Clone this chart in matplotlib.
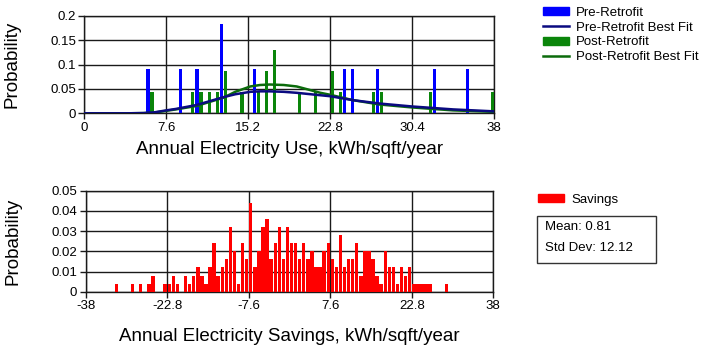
import numpy as np
import matplotlib
matplotlib.use("Agg")
import matplotlib.pyplot as plt
from matplotlib.patches import Patch, Rectangle
from matplotlib.lines import Line2D

plt.rcParams['font.family'] = ['Liberation Sans', 'DejaVu Sans']

# ===== DATA =====
# annual electricity use, kWh/sqft/year -> probability
pre_x = [5.9, 8.9, 10.45, 12.75, 15.77, 24.13, 24.89, 27.17, 32.49, 35.53]
pre_p = [0.091, 0.091, 0.091, 0.182, 0.091, 0.091, 0.091, 0.091, 0.091, 0.091]

post_x = [6.27, 10.07, 10.83, 11.59, 12.35, 13.11, 14.63, 16.15, 16.91, 17.67,
          19.95, 21.47, 22.99, 23.75, 26.79, 27.55, 32.11, 37.9]
post_p = [0.043, 0.043, 0.043, 0.043, 0.043, 0.087, 0.043, 0.043, 0.087, 0.130,
          0.043, 0.043, 0.087, 0.043, 0.043, 0.043, 0.043, 0.043]

# best fit curves
fit_x = [0, 4, 5.5, 6.5, 7.6, 8.5, 10.4, 12.9, 14.0, 15.4, 16.3, 17.2, 18.5,
         19.7, 21.9, 22.8, 24.9, 27.4, 30.4, 34.2, 38]
pre_fit = [0, 0, 0.0005, 0.002, 0.006, 0.009, 0.017, 0.033, 0.039, 0.044, 0.045,
           0.045, 0.044, 0.042, 0.037, 0.035, 0.027, 0.020, 0.014, 0.008, 0.004]
post_fit = [0, 0, 0.0004, 0.0015, 0.005, 0.008, 0.015, 0.032, 0.044, 0.055, 0.058,
            0.059, 0.058, 0.055, 0.042, 0.038, 0.027, 0.018, 0.012, 0.006, 0.003]

# savings histogram: 100 bins from -38 to 38
savings_p = [
    0, 0, 0, 0, 0, 0, 0, 0.004, 0, 0,
    0, 0.004, 0, 0.004, 0, 0.004, 0.008, 0, 0, 0.004,
    0.004, 0.008, 0.004, 0, 0.008, 0.004, 0.008, 0.012, 0.008, 0.004,
    0.012, 0.024, 0.008, 0.012, 0.016, 0.032, 0.020, 0.004, 0.024, 0.016,
    0.044, 0.012, 0.020, 0.032, 0.036, 0.016, 0.024, 0.032, 0.016, 0.032,
    0.024, 0.024, 0.016, 0.024, 0.016, 0.020, 0.012, 0.012, 0.020, 0.024,
    0.016, 0.012, 0.028, 0.012, 0.016, 0.016, 0.024, 0.008, 0.020, 0.020,
    0.016, 0.008, 0.004, 0.020, 0.012, 0.012, 0.004, 0.012, 0.008, 0.012,
    0.004, 0.004, 0.004, 0.004, 0.004, 0, 0, 0, 0.004, 0,
    0, 0, 0, 0, 0, 0, 0, 0, 0, 0,
]
savings_mean = 0.81
savings_std = 12.12

use_ticks = [0, 7.6, 15.2, 22.8, 30.4, 38]
use_tick_labels = ['0', '7.6', '15.2', '22.8', '30.4', '38']
use_yticks = [0, 0.05, 0.1, 0.15, 0.2]
use_ytick_labels = ['0', '0.05', '0.1', '0.15', '0.2']
sav_ticks = [-38, -22.8, -7.6, 7.6, 22.8, 38]
sav_tick_labels = ['-38', '-22.8', '-7.6', '7.6', '22.8', '38']
sav_yticks = [0, 0.01, 0.02, 0.03, 0.04, 0.05]
sav_ytick_labels = ['0', '0.01', '0.02', '0.03', '0.04', '0.05']

# ===== FIGURE =====
fig = plt.figure(figsize=(7.07, 3.5), dpi=100)
ax1 = fig.add_axes([84.3 / 707, 1 - 113.3 / 350, 409.7 / 707, 97.6 / 350])
ax2 = fig.add_axes([85.7 / 707, 1 - 291.7 / 350, 407.6 / 707, 101 / 350])

grid_col = '#1a1a1a'

def style(ax):
    ax.grid(True, color=grid_col, linewidth=1.0)
    ax.set_axisbelow(True)
    for s in ax.spines.values():
        s.set_color(grid_col)
        s.set_linewidth(1.0)
    ax.tick_params(direction='out', length=4, width=1.0, color=grid_col,
                   labelsize=9.5, pad=2)

# top: electricity use
ax1.bar(pre_x, pre_p, width=0.3, color='#0000ff', zorder=3)
ax1.bar(post_x, post_p, width=0.3, color='#0a850a', zorder=3)
ax1.plot(fit_x, post_fit, color='#0b6b0b', linewidth=1.8, zorder=4)
ax1.plot(fit_x, pre_fit, color='#0a0a80', linewidth=1.8, zorder=5)
ax1.set_xlim(0, 38)
ax1.set_ylim(0, 0.2)
ax1.set_xticks(use_ticks)
ax1.set_xticklabels(use_tick_labels)
ax1.set_yticks(use_yticks)
ax1.set_yticklabels(use_ytick_labels)
style(ax1)
ax1.set_ylabel('Probability', fontsize=13.5)
ax1.yaxis.set_label_coords(-0.155, 0.5)
ax1.set_xlabel('Annual Electricity Use, kWh/sqft/year', fontsize=13.5)
ax1.xaxis.set_label_coords(0.5, -0.37)
ax1.xaxis.label.set_va('center')

# bottom: savings
edges = np.linspace(-38, 38, len(savings_p) + 1)
centers = (edges[:-1] + edges[1:]) / 2
ax2.bar(centers, savings_p, width=0.64, color='#ff0000', zorder=3)
ax2.set_xlim(-38, 38)
ax2.set_ylim(0, 0.05)
ax2.set_xticks(sav_ticks)
ax2.set_xticklabels(sav_tick_labels)
ax2.set_yticks(sav_yticks)
ax2.set_yticklabels(sav_ytick_labels)
style(ax2)
ax2.set_ylabel('Probability', fontsize=13.5)
ax2.yaxis.set_label_coords(-0.157, 0.5)
ax2.set_xlabel('Annual Electricity Savings, kWh/sqft/year', fontsize=13.5)
ax2.xaxis.set_label_coords(0.5, -0.445)
ax2.xaxis.label.set_va('center')

# ===== LEGENDS =====
h_top = [Patch(color='#0000ff'), Line2D([], [], color='#0a0a80', linewidth=1.8),
         Patch(color='#0a850a'), Line2D([], [], color='#0b6b0b', linewidth=1.8)]
l_top = ['Pre-Retrofit', 'Pre-Retrofit Best Fit', 'Post-Retrofit', 'Post-Retrofit Best Fit']
fig.legend(h_top, l_top, loc='upper left', bbox_to_anchor=(543 / 707, 1 - 7 / 350),
           frameon=False, fontsize=9.5, handlelength=2.0, handleheight=0.55,
           handletextpad=0.5, labelspacing=0.2, borderpad=0, borderaxespad=0)

fig.legend([Patch(color='#ff0000')], ['Savings'], loc='upper left',
           bbox_to_anchor=(538 / 707, 1 - 194 / 350), frameon=False,
           fontsize=9.5, handlelength=2.0, handleheight=0.55, handletextpad=0.5,
           borderpad=0, borderaxespad=0)

fig.patches.append(Rectangle((536.7 / 707, 1 - 263.3 / 350), 119.3 / 707, 47.3 / 350,
                             transform=fig.transFigure, fill=False,
                             edgecolor='#333333', linewidth=1))
fig.text(545 / 707, 1 - 227 / 350, f'Mean: {savings_mean}', fontsize=9.5, va='center')
fig.text(545 / 707, 1 - 248 / 350, f'Std Dev: {savings_std}', fontsize=9.5, va='center')

fig.savefig('out.png', dpi=100)
